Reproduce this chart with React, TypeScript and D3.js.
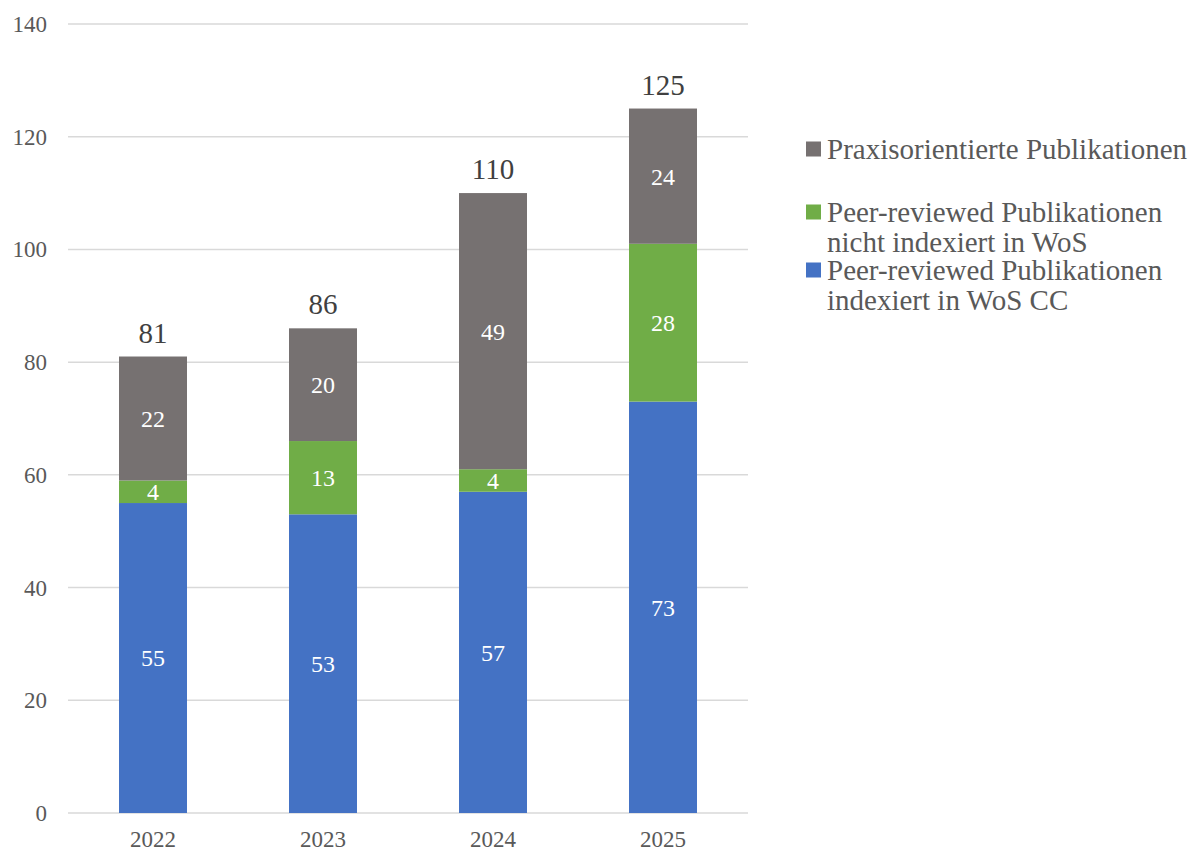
import React, { useEffect, useRef } from 'react';
import * as d3 from 'd3';

const years = ['2022', '2023', '2024', '2025'];
const wosCC = [55, 53, 57, 73];
const notWoS = [4, 13, 4, 28];
const praxis = [22, 20, 49, 24];
const yTicks = [0, 20, 40, 60, 80, 100, 120, 140];

const colors = ['#4472C4', '#70AD47', '#767171'];

const legendLines = [
  ['Praxisorientierte Publikationen'],
  ['Peer-reviewed Publikationen', 'nicht indexiert in WoS'],
  ['Peer-reviewed Publikationen', 'indexiert in WoS CC'],
];
const legendColors = ['#767171', '#70AD47', '#4472C4'];

const W = 1194;
const H = 849;

export default function App() {
  const svgRef = useRef<SVGSVGElement>(null);

  useEffect(() => {
    document.body.style.margin = '0';
    if (!svgRef.current) return;
    const svg = d3.select(svgRef.current);
    svg.selectAll('*').remove();

    const plot = { left: 68, right: 748, top: 24, bottom: 813 };
    const font = '"Liberation Serif", "Times New Roman", serif';

    const x = d3.scaleBand<string>()
      .domain(years)
      .range([plot.left, plot.right])
      .paddingInner(0.6)
      .paddingOuter(0.3);

    const y = d3.scaleLinear().domain([0, 140]).range([plot.bottom, plot.top]);

    // gridlines
    svg.append('g')
      .selectAll('line')
      .data(yTicks)
      .enter()
      .append('line')
      .attr('x1', plot.left)
      .attr('x2', plot.right)
      .attr('y1', d => y(d))
      .attr('y2', d => y(d))
      .attr('stroke', '#D9D9D9')
      .attr('stroke-width', 1.5);

    // y tick labels
    svg.append('g')
      .selectAll('text')
      .data(yTicks)
      .enter()
      .append('text')
      .attr('x', 47)
      .attr('y', d => y(d))
      .attr('dy', '0.35em')
      .attr('text-anchor', 'end')
      .attr('font-family', font)
      .attr('font-size', 23)
      .attr('fill', '#595959')
      .text(d => d);

    // x labels
    svg.append('g')
      .selectAll('text')
      .data(years)
      .enter()
      .append('text')
      .attr('x', d => (x(d) ?? 0) + x.bandwidth() / 2)
      .attr('y', 847)
      .attr('text-anchor', 'middle')
      .attr('font-family', font)
      .attr('font-size', 23)
      .attr('fill', '#595959')
      .text(d => d);

    const table = years.map((yr, i) => ({ year: yr, s0: wosCC[i], s1: notWoS[i], s2: praxis[i] }));
    const stacked = d3.stack<any>().keys(['s0', 's1', 's2'])(table);

    stacked.forEach((layer, li) => {
      const g = svg.append('g');
      g.selectAll('rect')
        .data(layer)
        .enter()
        .append('rect')
        .attr('x', d => x(d.data.year) ?? 0)
        .attr('width', x.bandwidth())
        .attr('y', d => y(d[1]))
        .attr('height', d => y(d[0]) - y(d[1]))
        .attr('fill', colors[li]);

      g.selectAll('text')
        .data(layer)
        .enter()
        .append('text')
        .attr('x', d => (x(d.data.year) ?? 0) + x.bandwidth() / 2)
        .attr('y', d => (y(d[0]) + y(d[1])) / 2)
        .attr('dy', '0.35em')
        .attr('text-anchor', 'middle')
        .attr('font-family', font)
        .attr('font-size', 24)
        .attr('fill', '#FFFFFF')
        .text(d => d[1] - d[0]);
    });

    // totals
    svg.append('g')
      .selectAll('text')
      .data(table)
      .enter()
      .append('text')
      .attr('x', d => (x(d.year) ?? 0) + x.bandwidth() / 2)
      .attr('y', d => y(d.s0 + d.s1 + d.s2) - 14)
      .attr('text-anchor', 'middle')
      .attr('font-family', font)
      .attr('font-size', 29)
      .attr('fill', '#404040')
      .text(d => d.s0 + d.s1 + d.s2);

    // legend
    const legendTop = [149, 212, 270];
    const lg = svg.append('g');
    legendLines.forEach((lines, i) => {
      lg.append('rect')
        .attr('x', 806)
        .attr('y', legendTop[i] - 7.5)
        .attr('width', 15)
        .attr('height', 15)
        .attr('fill', legendColors[i]);
      lines.forEach((ln, j) => {
        lg.append('text')
          .attr('x', 827)
          .attr('y', legendTop[i] + j * 30)
          .attr('dy', '0.35em')
          .attr('font-family', font)
          .attr('font-size', 29)
          .attr('fill', '#595959')
          .text(ln);
      });
    });
  }, []);

  return <svg ref={svgRef} width={W} height={H} style={{ display: 'block' }} />;
}
